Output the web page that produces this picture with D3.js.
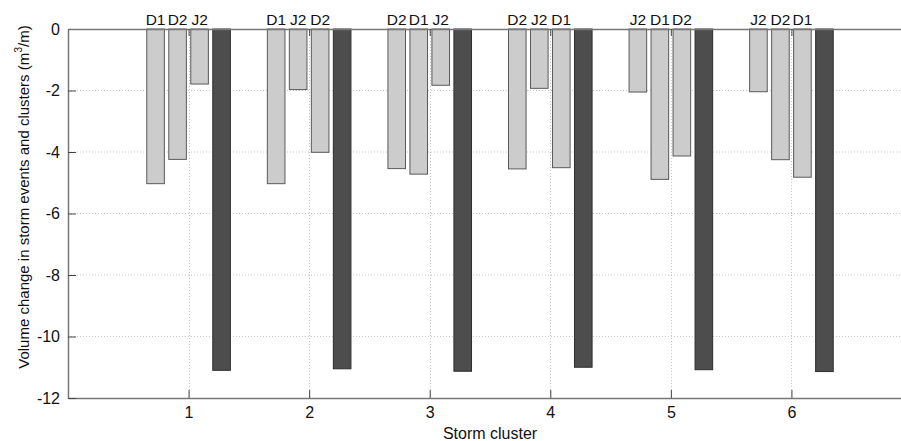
<!DOCTYPE html>
<html>
<head>
<meta charset="utf-8">
<script src="https://cdn.jsdelivr.net/npm/d3@7"></script>
<style>
  body { margin: 0; background: #fff; }
  text { font-family: "Liberation Sans", Arial, sans-serif; fill: #111; }
</style>
</head>
<body>
<div id="chart"></div>
<script>
// storm clusters on the x axis
var clusters = [1, 2, 3, 4, 5, 6];

// order of the three storm events inside each cluster (left to right)
var eventOrder = [
    ["D1", "D2", "J2"],
    ["D1", "J2", "D2"],
    ["D2", "D1", "J2"],
    ["D2", "J2", "D1"],
    ["J2", "D1", "D2"],
    ["J2", "D2", "D1"]
];

// volume change of each event (m3/m), in the order above
var eventValues = [
    [-5.03, -4.24, -1.79],
    [-5.03, -1.97, -4.01],
    [-4.54, -4.72, -1.83],
    [-4.55, -1.93, -4.51],
    [-2.05, -4.89, -4.13],
    [-2.04, -4.25, -4.82]
];

// volume change of the whole cluster
var clusterValues = [-11.10, -11.05, -11.13, -11.00, -11.08, -11.14];

var yTicks = [0, -2, -4, -6, -8, -10, -12];

var width = 901,
    height = 441,
    margin = { left: 68, right: -11, top: 29, bottom: 43 };

function translate(x, y){
    return "translate(" + x + "," + y + ")";
}

var xScale = d3.scaleLinear()
    .domain([0, 7])
    .range([margin.left, width - margin.right]);

var yScale = d3.scaleLinear()
    .domain([-12, 0])
    .range([height - margin.bottom, margin.top]);

// four bars per group: three events and the cluster total
var slotScale = d3.scaleBand()
    .domain([0, 1, 2, 3])
    .range([-44, 44])
    .paddingInner(0.2)
    .paddingOuter(0.1);

var bars = [];
clusters.forEach(function(c, i){
    eventValues[i].forEach(function(v, j){
        bars.push({ cluster: c, slot: j, value: v, label: eventOrder[i][j], total: false });
    });
    bars.push({ cluster: c, slot: 3, value: clusterValues[i], label: "", total: true });
});

var svg = d3.select("#chart")
    .append("svg")
    .attr("width", width)
    .attr("height", height);

var y0 = yScale(-12), yTop = yScale(0);

// grid
svg.append("g").selectAll("line.hgrid")
    .data(yTicks.filter(function(d){ return d !== 0 && d !== -12; }))
    .enter().append("line")
    .attr("x1", margin.left).attr("x2", width)
    .attr("y1", function(d){ return yScale(d); })
    .attr("y2", function(d){ return yScale(d); })
    .attr("stroke", "#c4c4c4")
    .attr("stroke-width", 1)
    .attr("stroke-dasharray", "1,2");

svg.append("g").selectAll("line.vgrid")
    .data(clusters)
    .enter().append("line")
    .attr("x1", function(d){ return Math.round(xScale(d)) + 0.5; })
    .attr("x2", function(d){ return Math.round(xScale(d)) + 0.5; })
    .attr("y1", yTop).attr("y2", y0)
    .attr("stroke", "#c4c4c4")
    .attr("stroke-width", 1)
    .attr("stroke-dasharray", "1,2");

// bars
svg.append("g").selectAll("rect")
    .data(bars)
    .enter().append("rect")
    .attr("x", function(d){ return xScale(d.cluster) + slotScale(d.slot); })
    .attr("width", slotScale.bandwidth())
    .attr("y", yTop)
    .attr("height", function(d){ return yScale(d.value) - yTop; })
    .attr("fill", function(d){ return d.total ? "#4d4d4d" : "#cccccc"; })
    .attr("stroke", function(d){ return d.total ? "#2e2e2e" : "#5a5a5a"; })
    .attr("stroke-width", 1);

// event labels above the bars
svg.append("g").selectAll("text")
    .data(bars.filter(function(d){ return !d.total; }))
    .enter().append("text")
    .attr("x", function(d){ return xScale(d.cluster) + slotScale(d.slot) + slotScale.bandwidth() / 2; })
    .attr("y", 25)
    .attr("text-anchor", "middle")
    .style("font-size", "15.5px")
    .text(function(d){ return d.label; });

// axes (ticks pointing inward, box on top)
var axisColor = "#777";
var plainFormat = function(d){ return String(d); };

var xAxis = d3.axisBottom(xScale)
    .tickValues(clusters)
    .tickFormat(plainFormat)
    .tickSizeInner(-8)
    .tickSizeOuter(0)
    .tickPadding(9);
var gx = svg.append("g")
    .attr("transform", translate(0, y0))
    .call(xAxis);

var yAxis = d3.axisLeft(yScale)
    .tickValues(yTicks)
    .tickFormat(plainFormat)
    .tickSizeInner(-8)
    .tickSizeOuter(0)
    .tickPadding(8);
var gy = svg.append("g")
    .attr("transform", translate(margin.left, 0))
    .call(yAxis);

var xTop = d3.axisTop(xScale)
    .tickValues(clusters)
    .tickFormat("")
    .tickSizeInner(-7)
    .tickSizeOuter(0);
var gt = svg.append("g")
    .attr("transform", translate(0, yTop))
    .call(xTop);

[gx, gy, gt].forEach(function(g){
    g.selectAll("path.domain").attr("stroke", axisColor).attr("stroke-width", 1.5);
    g.selectAll(".tick line").attr("stroke", "#444").attr("stroke-width", 1);
    g.selectAll(".tick text")
        .style("font-size", "16px")
        .style("font-family", "'Liberation Sans', Arial, sans-serif")
        .attr("fill", "#111");
});

// axis titles
svg.append("text")
    .attr("x", xScale(3.5))
    .attr("y", 439)
    .attr("text-anchor", "middle")
    .style("font-size", "16px")
    .text("Storm cluster");

var yl = svg.append("text")
    .attr("transform", translate(29, 197) + " rotate(-90)")
    .attr("text-anchor", "middle")
    .style("font-size", "15px");
yl.append("tspan").text("Volume change in storm events and clusters (m");
yl.append("tspan").attr("dy", -7).style("font-size", "10.5px").text("3");
yl.append("tspan").attr("dy", 7).text("/m)");
</script>
</body>
</html>
